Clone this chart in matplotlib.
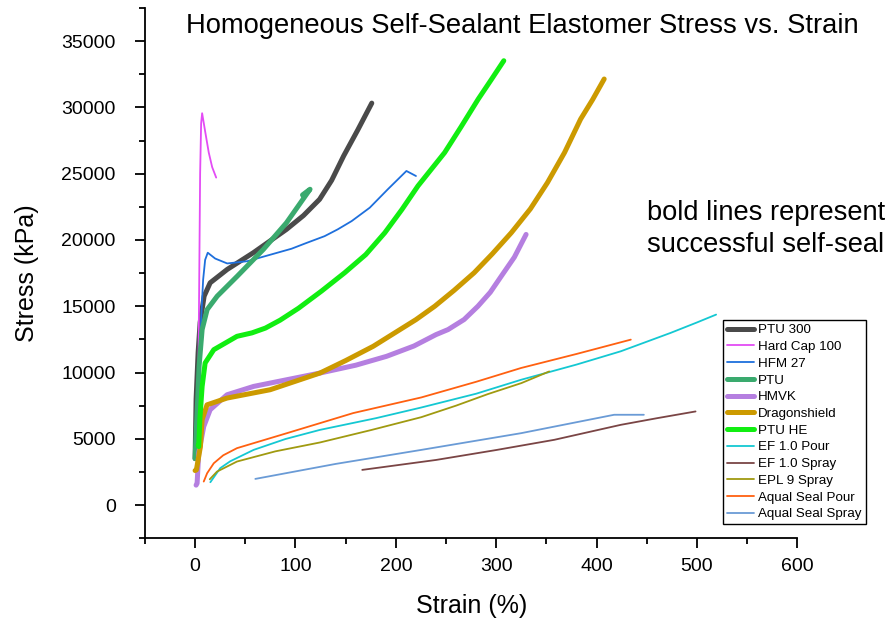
import matplotlib
matplotlib.use("Agg")
import matplotlib.pyplot as plt
from matplotlib.ticker import MultipleLocator

plt.rcParams["font.family"] = ["Liberation Sans", "DejaVu Sans"]

# strain (%) / stress (kPa)
ptu300_x = [0, 1, 3, 5, 9, 15, 32, 58, 91, 108, 124, 136, 148, 162, 176]
ptu300_y = [3500, 8000, 11500, 13770, 15760, 16770, 17780, 19040, 20800, 21850, 23070,
            24500, 26350, 28300, 30330]

hardcap_x = [2, 3, 4, 5, 6, 7, 10, 13.6, 17, 21]
hardcap_y = [2000, 8000, 16000, 25000, 28800, 29570, 28200, 26600, 25500, 24710]

hfm27_x = [2, 4, 6, 8, 10, 12.6, 20, 32, 52, 96, 110, 129, 142, 156, 174, 192, 210.5, 220]
hfm27_y = [3000, 9000, 14000, 17000, 18500, 19040, 18600, 18230, 18400, 19340, 19750,
           20290, 20800, 21430, 22440, 23830, 25210, 24830]

ptu_x = [0, 2, 4, 7, 12, 22, 42, 68, 91, 114.5, 107]
ptu_y = [3500, 7000, 10500, 13240, 14750, 15760, 17270, 19290, 21300, 23830, 23400]

hmvk_x = [1, 2, 3.6, 8.6, 15, 31.8, 58.3, 124.4, 160, 190.7, 218, 240, 252, 268, 281.7,
          294, 305, 318, 329.7]
hmvk_y = [1500, 1640, 3910, 5920, 7190, 8320, 8950, 9960, 10550, 11220, 12000, 12860,
          13240, 14000, 15000, 16050, 17270, 18700, 20420]

dragon_x = [0, 1.3, 5.3, 7, 11.9, 31.8, 74.8, 124.4, 150, 177.5, 220, 238.7, 258, 278,
            296, 315, 334, 351, 368, 384, 396, 407.5]
dragon_y = [2600, 2650, 4410, 6430, 7560, 8070, 8700, 9960, 10900, 11980, 13990, 15000,
            16200, 17530, 18950, 20550, 22350, 24330, 26600, 29120, 30600, 32150]

ptuhe_x = [3, 3.6, 4.7, 7, 10, 18.6, 41.7, 56.6, 70, 84.7, 103, 126, 149, 170, 189, 206,
           222, 248.6, 265, 282, 295, 307.5]
ptuhe_y = [4500, 4410, 6430, 8950, 10720, 11720, 12730, 12990, 13350, 13950, 14850, 16150,
           17530, 18900, 20550, 22300, 24080, 26600, 28550, 30630, 32100, 33530]

ef_pour_x = [15.2, 25, 35, 58.3, 90, 124.4, 180, 225.4, 280, 324.7, 380, 424, 473.7, 500, 519]
ef_pour_y = [1720, 2780, 3300, 4160, 4980, 5670, 6550, 7360, 8400, 9450, 10600, 11600,
             12990, 13780, 14370]

ef_spray_x = [166.5, 240, 300, 357.8, 424, 460, 498.5]
ef_spray_y = [2650, 3400, 4150, 4920, 6050, 6550, 7060]

epl9_x = [14.6, 21.8, 41.7, 80, 124.4, 175, 225.4, 260, 291.6, 325, 352.8]
epl9_y = [1940, 2520, 3280, 4050, 4720, 5650, 6630, 7500, 8370, 9200, 10080]

aq_pour_x = [8.6, 12, 18.6, 28, 41.7, 91.4, 157.6, 225.4, 280, 324.7, 380, 434]
aq_pour_y = [1770, 2400, 3150, 3750, 4290, 5420, 6940, 8120, 9300, 10340, 11400, 12480]

aq_spray_x = [60, 140, 225.4, 324.7, 417.4, 447]
aq_spray_y = [1970, 3100, 4160, 5420, 6810, 6810]

labels = ["PTU 300", "Hard Cap 100", "HFM 27", "PTU", "HMVK", "Dragonshield",
          "PTU HE", "EF 1.0 Pour", "EF 1.0 Spray", "EPL 9 Spray",
          "Aqual Seal Pour", "Aqual Seal Spray"]
series = [(ptu300_x, ptu300_y), (hardcap_x, hardcap_y), (hfm27_x, hfm27_y),
          (ptu_x, ptu_y), (hmvk_x, hmvk_y), (dragon_x, dragon_y),
          (ptuhe_x, ptuhe_y), (ef_pour_x, ef_pour_y), (ef_spray_x, ef_spray_y),
          (epl9_x, epl9_y), (aq_pour_x, aq_pour_y), (aq_spray_x, aq_spray_y)]
colors = ["#4a4a4a", "#e34cf5", "#1e6fdc", "#3aaa6e", "#b57fe0", "#cc9a00",
          "#11ee11", "#14c8d2", "#7a4545", "#a09a10", "#ff6010", "#6a9bd6"]
bold = [True, False, False, True, True, True, True, False, False, False, False, False]

fig = plt.figure(figsize=(8.89, 6.25), dpi=100)
ax = fig.add_axes([0.163, 0.139, 0.734, 0.848])

for (x, y), lab, c, b in zip(series, labels, colors, bold):
    ax.plot(x, y, color=c, lw=3.6 if b else 1.3, label=lab,
            solid_capstyle="round", solid_joinstyle="round")

ax.set_xlim(-50, 600)
ax.set_ylim(-2500, 37500)
ax.xaxis.set_major_locator(MultipleLocator(100))
ax.xaxis.set_minor_locator(MultipleLocator(50))
ax.yaxis.set_major_locator(MultipleLocator(5000))
ax.yaxis.set_minor_locator(MultipleLocator(2500))

for s in ["top", "right"]:
    ax.spines[s].set_visible(False)
for s in ["left", "bottom"]:
    ax.spines[s].set_linewidth(1.3)
ax.tick_params(which="major", direction="out", length=7, width=1.3, labelsize=14)
ax.tick_params(axis="y", which="major", pad=14)
ax.tick_params(axis="x", which="major", pad=7)
ax.tick_params(which="minor", direction="out", length=4, width=1.3)

ax.set_xlabel("Strain (%)", fontsize=18, labelpad=14)
ax.set_ylabel("Stress (kPa)", fontsize=18, labelpad=16)

fig.text(522 / 889, 1 - 26 / 625, "Homogeneous Self-Sealant Elastomer Stress vs. Strain",
         ha="center", va="center", fontsize=19.7)
fig.text(647 / 889, 1 - 229 / 625, "bold lines represent\nsuccessful self-seal",
         ha="left", va="center", fontsize=19.6, linespacing=1.3)

leg = ax.legend(loc="upper left", bbox_to_anchor=(723 / 889, 1 - 320 / 625),
                bbox_transform=fig.transFigure, borderaxespad=0, fontsize=9.6,
                labelspacing=0.33, handlelength=2.0, handletextpad=0.35,
                borderpad=0.3, fancybox=False, framealpha=1)
leg.get_frame().set_edgecolor("black")
leg.get_frame().set_linewidth(1.0)

fig.savefig("out.png", dpi=100)
